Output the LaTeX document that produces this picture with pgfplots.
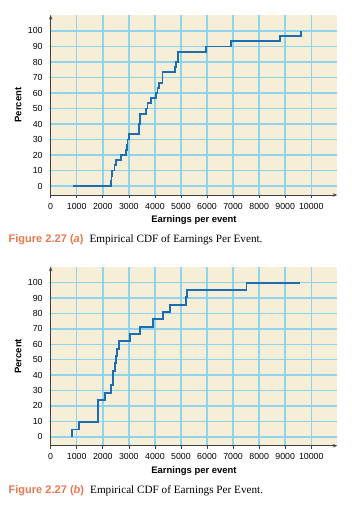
\documentclass[border=0pt]{standalone}
\usepackage{pgfplots}
\pgfplotsset{compat=1.18}
\usetikzlibrary{arrows.meta}
\usepackage{fontspec}
\setmainfont{Liberation Sans}
\newfontfamily\seriffont{Liberation Serif}
\definecolor{bg}{HTML}{F6EED6}
\definecolor{gridblue}{HTML}{8FD4EE}
\definecolor{lineblue}{HTML}{1C6DB2}
\definecolor{capor}{HTML}{E8784E}
\pgfplotsset{cdfaxis/.style={
  scale only axis, width=215pt,
  xmin=0, xmax=11000, ymin=-5.8, ymax=110.3,
  axis lines=left,
  axis line style={draw=black!75, line width=0.6pt, -{Stealth[length=3.5pt,width=2.6pt]}},
  axis background/.style={fill=bg},
  xtick={0,1000,...,10000}, ytick={0,10,...,100},
  scaled x ticks=false, scaled y ticks=false,
  grid=major, major grid style={draw=gridblue, line width=1.1pt},
  tick label style={font=\fontsize{6.6}{7}\selectfont},
  /pgf/number format/.cd, fixed, 1000 sep={}, assume math mode=true, /pgfplots/.cd,
  tick align=outside, major tick length=2.5pt,
  ytick style={draw=none},
  xtick style={draw=black!75, line width=0.5pt},
  xlabel={Earnings per event}, ylabel={Percent},
  label style={font=\fontsize{7.1}{8}\selectfont\bfseries},
  ylabel style={yshift=-2pt},
  xlabel style={yshift=2pt},
}}
\begin{document}
\begin{tikzpicture}
\useasboundingbox (0,0) rectangle (264pt,-378.75pt);
\begin{axis}[cdfaxis, height=135pt, at={(38pt,-146.25pt)}, anchor=south west]
\addplot[const plot, draw=lineblue, line width=1.4pt] coordinates {
(850,0) (2320,3.33) (2335,6.67) (2370,10) (2450,13.33) (2510,16.67) (2690,20)
(2885,23.33) (2923,26.67) (2950,30) (3000,33.33) (3396,40) (3435,46.67)
(3654,50) (3715,53.33) (3846,56.67) (4038,60) (4100,63.33) (4154,66.67)
(4292,73.33) (4769,76.67) (4819,80) (4885,86.67) (5973,90) (6935,93.33)
(8792,96.67) (9600,100)};
\end{axis}
\node[anchor=west, inner sep=0] at (6.2pt,-180pt) {{\color{capor}\fontsize{8.3}{9}\selectfont\bfseries Figure 2.27 (\textit{a})}\hspace{4.5pt}{\seriffont\fontsize{8.4}{9}\selectfont Empirical CDF of Earnings Per Event.}};
\begin{axis}[cdfaxis, height=134.25pt, at={(38pt,-334.3pt)}, anchor=south west]
\addplot[const plot, draw=lineblue, line width=1.4pt] coordinates {
(807,0) (807,4.76) (1088,9.52) (1800,19.05) (1815,23.81) (2088,28.57)
(2308,33.33) (2408,42.86) (2473,47.62) (2523,52.38) (2545,57.14) (2638,61.9)
(3050,66.67) (3435,71.43) (3910,76.19) (4310,80.95) (4565,85.71)
(5204,90.48) (5242,95.24) (7512,100) (9550,100)};
\end{axis}
\node[anchor=west, inner sep=0] at (6.2pt,-368.25pt) {{\color{capor}\fontsize{8.3}{9}\selectfont\bfseries Figure 2.27 (\textit{b})}\hspace{4.5pt}{\seriffont\fontsize{8.4}{9}\selectfont Empirical CDF of Earnings Per Event.}};
\end{tikzpicture}
\end{document}
